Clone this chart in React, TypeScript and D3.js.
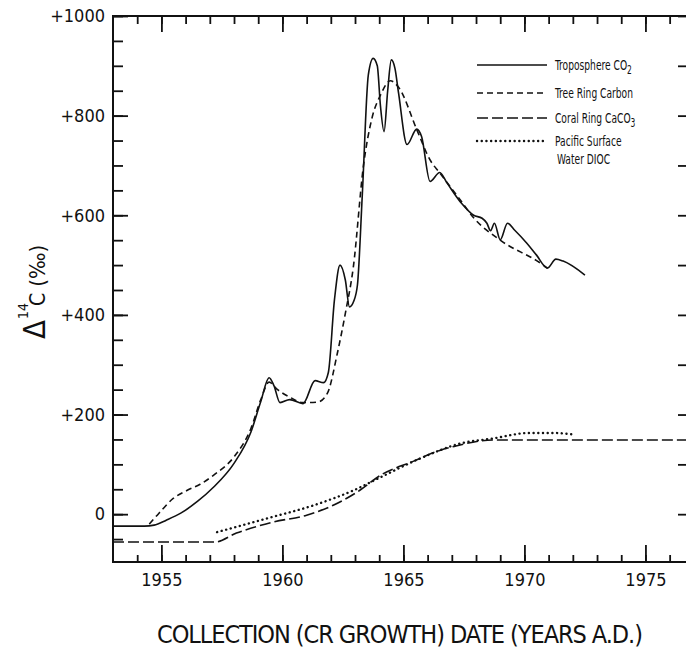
import React, { useRef, useEffect } from 'react';
import * as d3 from 'd3';

type Pt = [number, number];

// [year, delta 14C per mil]
const troposphereCO2: Pt[] = [
    [1953.0, -24], [1954.3, -24], [1954.7, -22], [1955.2, -12], [1955.8, 2], [1956.5, 26],
    [1957.15, 54], [1958.0, 102], [1958.7, 165], [1959.1, 225], [1959.45, 274], [1959.65, 258],
    [1959.9, 224], [1960.3, 230], [1960.85, 222], [1961.35, 268], [1961.7, 264], [1961.9, 285],
    [1962.15, 430], [1962.38, 500], [1962.6, 470], [1962.77, 416], [1962.95, 428], [1963.1, 460],
    [1963.3, 640], [1963.55, 882], [1963.75, 915], [1963.92, 900], [1964.05, 820], [1964.2, 768],
    [1964.35, 850], [1964.5, 912], [1964.65, 895], [1964.8, 845], [1965.15, 742], [1965.55, 773],
    [1965.75, 758], [1966.1, 668], [1966.5, 686], [1966.8, 665], [1967.4, 624], [1967.9, 600],
    [1968.25, 594], [1968.45, 584], [1968.6, 569], [1968.76, 584], [1969.0, 551], [1969.3, 584],
    [1969.6, 570], [1970.1, 544], [1970.5, 520], [1970.95, 494], [1971.3, 512], [1971.6, 508],
    [1972.5, 480],
];

const treeRingCarbon: Pt[] = [
    [1954.5, -20], [1954.9, 2], [1955.5, 32], [1956.07, 48], [1956.6, 60], [1957.15, 78],
    [1958.0, 115], [1958.7, 172], [1959.1, 229], [1959.45, 265], [1959.8, 250], [1960.3, 235],
    [1960.85, 224], [1961.45, 225], [1961.86, 243], [1962.27, 323], [1962.6, 403], [1962.93, 496],
    [1963.35, 700], [1963.7, 795], [1964.05, 841], [1964.46, 870], [1964.8, 857], [1965.56, 771],
    [1966.1, 711], [1966.5, 685], [1967.36, 630], [1967.9, 595], [1969.0, 550], [1970.66, 504],
    [1970.95, 494],
];

const coralRingCaCO3: Pt[] = [
    [1953.0, -56], [1957.2, -56], [1958.1, -38], [1959.6, -16], [1961.0, -2], [1962.1, 18],
    [1963.2, 48], [1964.05, 78], [1965.4, 106], [1966.5, 128], [1967.1, 136], [1968.7, 149],
    [1976.8, 149],
];

const pacificSurfaceDIOC: Pt[] = [
    [1957.3, -36], [1959.4, -8], [1961.3, 18], [1962.95, 48], [1964.05, 74], [1965.7, 112],
    [1967.36, 142], [1968.7, 152], [1970.2, 163], [1971.2, 163], [1972.0, 160],
];

const yMajorTicks = [0, 200, 400, 600, 800, 1000];
const yTickLabels = ['0', '+200', '+400', '+600', '+800', '+1000'];
const xMajorTicks = [1955, 1960, 1965, 1970, 1975];
const xTickLabels = ['1955', '1960', '1965', '1970', '1975'];

const legendLabels = [
    ['Troposphere CO', '2'],
    ['Tree Ring Carbon', ''],
    ['Coral Ring CaCO', '3'],
    ['Pacific Surface', ''],
];
const legendExtraLine = 'Water DIOC';

const xTitle = 'COLLECTION (CR GROWTH) DATE (YEARS A.D.)';

const FONT = '"Liberation Sans Narrow", "Arial Narrow", "DejaVu Sans Condensed", "Liberation Sans", sans-serif';

const App: React.FC = () => {
    const svgRef = useRef<SVGSVGElement>(null);
    const width = 686;
    const height = 648;

    useEffect(() => {
        if (!svgRef.current) return;
        const svg = d3.select(svgRef.current);
        svg.selectAll('*').remove();

        const x = d3.scaleLinear().domain([1953, 1976.8]).range([113, 689]);
        const y = d3.scaleLinear().domain([-96, 1000]).range([562, 16]);
        const [x0, x1] = x.range();
        const [yB, yT] = y.range();

        const styleAxis = (g: d3.Selection<SVGGElement, unknown, null, undefined>) => {
            g.select('.domain').remove();
            g.attr('font-family', FONT).attr('font-size', 18);
            g.selectAll('line').attr('stroke', '#111').attr('stroke-width', 1.8);
            g.selectAll('text').attr('fill', '#111');
        };

        // left axis: minor + major (ticks point inward)
        svg.append('g')
            .attr('transform', `translate(${x0},0)`)
            .call(d3.axisLeft(y).tickValues(d3.range(-50, 1001, 50)).tickSize(-10).tickFormat(() => ''))
            .call(styleAxis);
        svg.append('g')
            .attr('transform', `translate(${x0},0)`)
            .call(d3.axisLeft(y).tickValues(yMajorTicks).tickSize(-15).tickPadding(8)
                .tickFormat((_d, i) => yTickLabels[i]))
            .call(styleAxis);

        // right axis
        svg.append('g')
            .attr('transform', `translate(${x1},0)`)
            .call(d3.axisRight(y).tickValues(d3.range(0, 1001, 100)).tickSize(-11).tickFormat(() => ''))
            .call(styleAxis);

        // bottom axis
        svg.append('g')
            .attr('transform', `translate(0,${yB})`)
            .call(d3.axisBottom(x).tickValues(d3.range(1954, 1977, 1)).tickSize(-7).tickFormat(() => ''))
            .call(styleAxis);
        svg.append('g')
            .attr('transform', `translate(0,${yB})`)
            .call(d3.axisBottom(x).tickValues(xMajorTicks).tickSize(-17).tickPadding(11)
                .tickFormat((_d, i) => xTickLabels[i]))
            .call(styleAxis);

        // top axis
        svg.append('g')
            .attr('transform', `translate(0,${yT})`)
            .call(d3.axisTop(x).tickValues(d3.range(1954, 1977, 1)).tickSize(-8).tickFormat(() => ''))
            .call(styleAxis);
        svg.append('g')
            .attr('transform', `translate(0,${yT})`)
            .call(d3.axisTop(x).tickValues(xMajorTicks).tickSize(-16).tickFormat(() => ''))
            .call(styleAxis);

        // frame
        svg.append('rect')
            .attr('x', x0).attr('y', yT)
            .attr('width', x1 - x0).attr('height', yB - yT)
            .attr('fill', 'none').attr('stroke', '#111').attr('stroke-width', 2);

        const line = d3.line<Pt>()
            .x(d => x(d[0]))
            .y(d => y(d[1]))
            .curve(d3.curveMonotoneX);

        const series = [
            { data: troposphereCO2, dash: null as string | null, width: 1.6, cap: 'butt' },
            { data: treeRingCarbon, dash: '6,4', width: 1.6, cap: 'butt' },
            { data: coralRingCaCO3, dash: '11,4', width: 1.6, cap: 'butt' },
            { data: pacificSurfaceDIOC, dash: '0.1,4.6', width: 2.4, cap: 'round' },
        ];

        const plot = svg.append('g');
        series.forEach(s => {
            plot.append('path')
                .attr('d', line(s.data) || '')
                .attr('fill', 'none')
                .attr('stroke', '#111')
                .attr('stroke-width', s.width)
                .attr('stroke-linecap', s.cap)
                .attr('stroke-dasharray', s.dash);
        });

        // legend (text squeezed to look like the narrow lettering)
        const legend = svg.append('g').attr('font-family', FONT).attr('font-size', 14.5).attr('fill', '#111');
        const rowY = [65, 93, 118, 141];
        legendLabels.forEach((lab, i) => {
            const s = series[i];
            legend.append('line')
                .attr('x1', 477).attr('x2', 547)
                .attr('y1', rowY[i]).attr('y2', rowY[i])
                .attr('stroke', '#111')
                .attr('stroke-width', s.width)
                .attr('stroke-linecap', s.cap)
                .attr('stroke-dasharray', s.dash);
            const t = legend.append('text')
                .attr('transform', `translate(555,${rowY[i] + 5}) scale(0.7,1)`);
            t.append('tspan').text(lab[0]);
            if (lab[1]) {
                t.append('tspan').attr('dy', 4).attr('font-size', 12).text(lab[1]);
            }
        });
        legend.append('text')
            .attr('transform', `translate(557,${rowY[3] + 23}) scale(0.7,1)`)
            .text(legendExtraLine);

        // y axis title
        const yt = svg.append('text')
            .attr('transform', 'translate(45,339) rotate(-90)')
            .attr('font-family', FONT)
            .attr('fill', '#111');
        yt.append('tspan').attr('font-size', 31).text('Δ');
        yt.append('tspan').attr('font-size', 14).attr('dy', -17).attr('dx', 1).text('14');
        yt.append('tspan').attr('font-size', 21).attr('dy', 17).attr('dx', -3).text('C');
        yt.append('tspan').attr('font-size', 22).attr('dx', 6).text('(‰)');

        // x axis title
        svg.append('text')
            .attr('x', 400)
            .attr('y', 643)
            .attr('text-anchor', 'middle')
            .attr('font-family', FONT)
            .attr('font-size', 25)
            .attr('fill', '#111')
            .attr('textLength', 486)
            .attr('lengthAdjust', 'spacing')
            .text(xTitle);
    }, []);

    return (
        <svg
            ref={svgRef}
            width={width}
            height={height}
            style={{ position: 'absolute', left: 0, top: 0, background: '#fff' }}
        />
    );
};

export default App;
